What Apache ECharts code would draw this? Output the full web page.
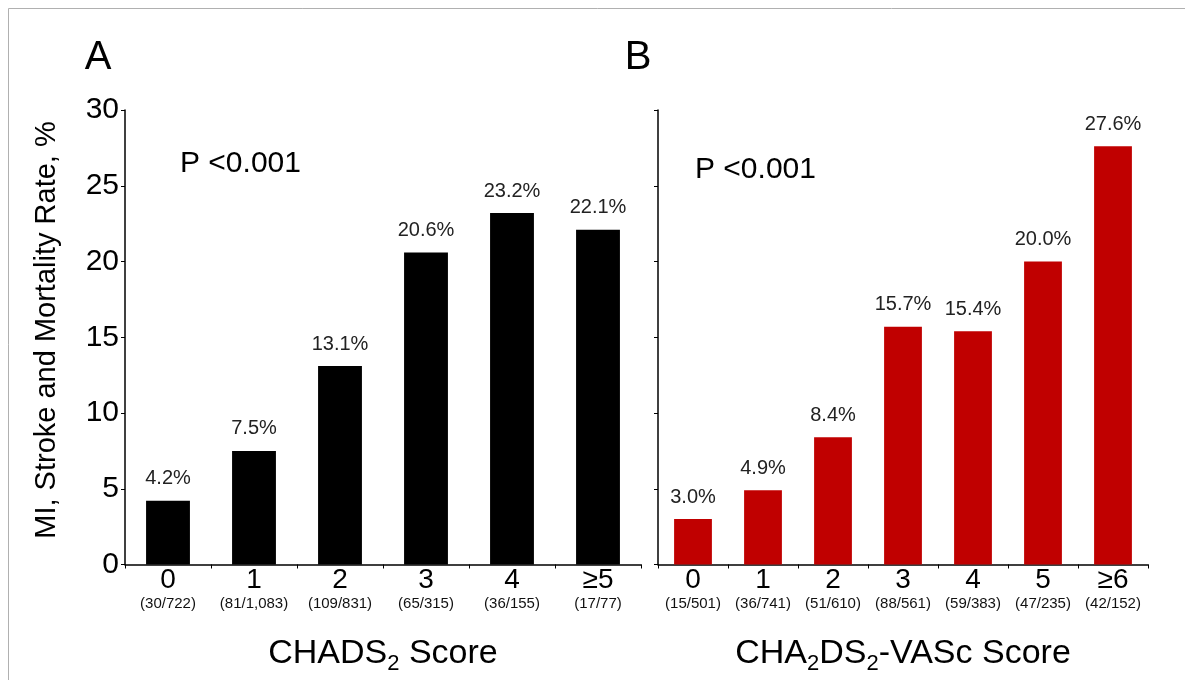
<!DOCTYPE html>
<html>
<head>
<meta charset="utf-8">
<script src="https://cdn.jsdelivr.net/npm/echarts@6/dist/echarts.min.js"></script>
<style>html,body{margin:0;padding:0;background:#fff}#c{width:1185px;height:680px}</style>
</head>
<body>
<div id="c"></div>
<script>
const catsA = ['0', '1', '2', '3', '4', '≥5'];
const subA = ['(30/722)', '(81/1,083)', '(109/831)', '(65/315)', '(36/155)', '(17/77)'];
const valsA = [4.2, 7.5, 13.1, 20.6, 23.2, 22.1];

const catsB = ['0', '1', '2', '3', '4', '5', '≥6'];
const subB = ['(15/501)', '(36/741)', '(51/610)', '(88/561)', '(59/383)', '(47/235)', '(42/152)'];
const valsB = [3.0, 4.9, 8.4, 15.7, 15.4, 20.0, 27.6];

const yMin = 0, yMax = 30, yStep = 5;

const FONT = '"Liberation Sans", Arial, sans-serif';
const chart = echarts.init(document.getElementById('c'));

function xAxisFor(cats, subs, gridIndex, name) {
  return {
    type: 'category', gridIndex: gridIndex, data: cats,
    axisLine: { lineStyle: { color: '#000', width: 1.5 } },
    axisTick: { show: true, length: 4, interval: 0, lineStyle: { color: '#000' } },
    axisLabel: {
      interval: 0, margin: 3, color: '#000', fontFamily: FONT,
      formatter: function (v, i) { return '{a|' + v + '}\n{b|' + subs[i] + '}'; },
      rich: {
        a: { fontSize: 28, lineHeight: 26, color: '#000', fontFamily: FONT },
        b: { fontSize: 15, lineHeight: 20, color: '#111', fontFamily: FONT }
      }
    },
    name: name, nameLocation: 'middle', nameGap: 71,
    nameTextStyle: {
      fontFamily: FONT, color: '#000', fontSize: 34,
      rich: {
        m: { fontSize: 34, lineHeight: 36, fontFamily: FONT, color: '#000' },
        s: { fontSize: 22, lineHeight: 36, fontFamily: FONT, color: '#000', padding: [21, 0, 0, 0] }
      }
    }
  };
}

function yAxisFor(gridIndex, showLabels) {
  return {
    type: 'value', gridIndex: gridIndex, min: yMin, max: yMax, interval: yStep,
    splitLine: { show: false },
    axisLine: { show: true, lineStyle: { color: '#000', width: 1.5 } },
    axisTick: { show: true, length: 4, lineStyle: { color: '#000' } },
    axisLabel: { show: showLabels, fontSize: 30, color: '#000', fontFamily: FONT, margin: 6 }
  };
}

function barSeries(vals, idx, color, bw) {
  return {
    type: 'bar', xAxisIndex: idx, yAxisIndex: idx, data: vals, barWidth: bw,
    itemStyle: { color: color },
    label: {
      show: true, position: 'top', distance: 12, fontSize: 20, color: '#222', fontFamily: FONT,
      formatter: function (p) { return p.value.toFixed(1) + '%'; }
    }
  };
}

chart.setOption({
  animation: false,
  backgroundColor: '#fff',
  grid: [
    { left: 125, top: 110, width: 516, height: 455 },
    { left: 658, top: 110, width: 490, height: 455 }
  ],
  xAxis: [
    xAxisFor(catsA, subA, 0, '{m|CHADS}{s|2}{m| Score}'),
    xAxisFor(catsB, subB, 1, '{m|CHA}{s|2}{m|DS}{s|2}{m|-VASc Score}')
  ],
  yAxis: [yAxisFor(0, true), yAxisFor(1, false)],
  series: [
    barSeries(valsA, 0, '#000000', '51%'),
    barSeries(valsB, 1, '#c00000', '54%')
  ],
  graphic: [
    { type: 'rect', shape: { x: 8.5, y: 8.5, width: 1200, height: 700 }, style: { fill: 'none', stroke: '#b0b0b0', lineWidth: 1 }, silent: true },
    { type: 'text', x: 98, y: 58, style: { text: 'A', fontSize: 40, fontFamily: FONT, fill: '#000', align: 'center', verticalAlign: 'middle' } },
    { type: 'text', x: 638, y: 58, style: { text: 'B', fontSize: 40, fontFamily: FONT, fill: '#000', align: 'center', verticalAlign: 'middle' } },
    { type: 'text', x: 180, y: 164, style: { text: 'P <0.001', fontSize: 30, fontFamily: FONT, fill: '#000', align: 'left', verticalAlign: 'middle' } },
    { type: 'text', x: 695, y: 170, style: { text: 'P <0.001', fontSize: 30, fontFamily: FONT, fill: '#000', align: 'left', verticalAlign: 'middle' } },
    { type: 'text', x: 47, y: 330, rotation: Math.PI / 2, style: { text: 'MI, Stroke and Mortality Rate, %', fontSize: 29, fontFamily: FONT, fill: '#000', align: 'center', verticalAlign: 'middle' } }
  ]
});
</script>
</body>
</html>
